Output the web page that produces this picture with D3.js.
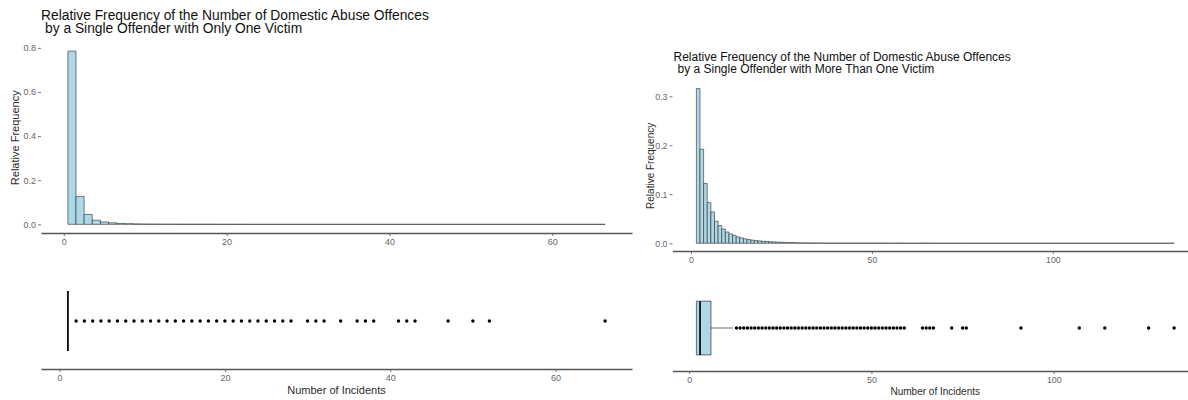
<!DOCTYPE html>
<html>
<head>
<meta charset="utf-8">
<script src="https://cdn.jsdelivr.net/npm/d3@7"></script>
<style>
    body { margin: 0; background: #fff; }
    svg { display: block; font-family: "Liberation Sans", Arial, sans-serif; }
</style>
</head>
<body>
<div id="chart"></div>
<script>
"use strict";

// ---- data ----
// relative frequency per number of incidents, one bin per integer
const oneVictimFirstBin = 1;
const oneVictimFreq = [
    0.785, 0.127, 0.045, 0.019, 0.011, 0.007, 0.004, 0.003, 0.002, 0.0015,
    0.0011, 0.0009, 0.0007, 0.0006, 0.0005, 0.0004, 0.0004, 0.0003, 0.0003, 0.0002,
    0.0002, 0.0002, 0.0001, 0.0001, 0.0001, 0.0001, 0.0001, 0.0001, 0, 0.0001,
    0.0001, 0.0001, 0, 0.0001, 0, 0.0001, 0.0001, 0.0001, 0, 0,
    0.0001, 0.0001, 0.0001, 0, 0, 0, 0.0001, 0, 0, 0.0001,
    0, 0.0001, 0, 0, 0, 0, 0, 0, 0, 0,
    0, 0, 0, 0, 0, 0.0001
];
const multiVictimFirstBin = 2;
const multiVictimFreq = [
    0.316, 0.192, 0.122, 0.083, 0.064, 0.045, 0.036, 0.029, 0.023, 0.019,
    0.016, 0.013, 0.011, 0.009, 0.0075, 0.0065, 0.0055, 0.0048, 0.0042, 0.0037,
    0.0032, 0.0028, 0.0024, 0.0021, 0.0018, 0.0015, 0.0013, 0.0011, 0.0009, 0.0008,
    0.0007, 0.0006, 0.0005, 0.0005, 0.0004, 0.0004, 0.0003, 0.0003, 0.0003, 0.0002,
    0.0002, 0.0002, 0.0002, 0.0002, 0.0002, 0.0002, 0.0002, 0.0002, 0.0002, 0.0002,
    0.0002, 0.0001, 0.0001, 0.0001, 0.0001, 0.0001, 0.0001, 0.0001, 0, 0,
    0, 0, 0.0001, 0.0001, 0.0001, 0.0001, 0, 0, 0, 0,
    0.0001, 0, 0, 0.0001, 0.0001, 0, 0, 0, 0, 0,
    0, 0, 0, 0, 0, 0, 0, 0, 0, 0.0001,
    0, 0, 0, 0, 0, 0, 0, 0, 0, 0,
    0, 0, 0, 0, 0, 0.0001, 0, 0, 0, 0,
    0, 0, 0.0001, 0, 0, 0, 0, 0, 0, 0,
    0, 0, 0, 0, 0.0001, 0, 0, 0, 0, 0,
    0, 0.0001
];

// boxplot summaries and outliers
const oneVictimBox = { lo: 1, q1: 1, med: 1, q3: 1, hi: 1 };
const oneVictimOutliers = [
    2, 3, 4, 5, 6, 7, 8, 9, 10, 11, 12, 13, 14, 15, 16, 17, 18, 19, 20,
    21, 22, 23, 24, 25, 26, 27, 28, 30, 31, 32, 34, 36, 37, 38,
    41, 42, 43, 47, 50, 52, 66
];
const multiVictimBox = { lo: 2, q1: 2, med: 3, q3: 6, hi: 12 };
const multiVictimOutliers = [
    13, 14, 15, 16, 17, 18, 19, 20, 21, 22, 23, 24, 25, 26, 27, 28, 29, 30,
    31, 32, 33, 34, 35, 36, 37, 38, 39, 40, 41, 42, 43, 44, 45, 46, 47, 48,
    49, 50, 51, 52, 53, 54, 55, 56, 57, 58, 59, 64, 65, 66, 67, 72, 75, 76,
    91, 107, 114, 126, 133
];

// tick labels
const oneVictimXTicks = [0, 20, 40, 60];
const oneVictimYTicks = [0, 0.2, 0.4, 0.6, 0.8];
const multiVictimXTicks = [0, 50, 100];
const multiVictimYTicks = [0, 0.1, 0.2, 0.3];

const titleOne = ["Relative Frequency of the Number of Domestic Abuse Offences",
                  "by a Single Offender with Only One Victim"];
const titleMulti = ["Relative Frequency of the Number of Domestic Abuse Offences",
                    "by a Single Offender with More Than One Victim"];

const FILL = "#add8e6";
const AXIS = "#555";
const TICKTEXT = "#666";

const svg = d3.select("#chart").append("svg")
              .attr("width", 1188)
              .attr("height", 400);

// ggplot style 5% expansion
const expand = (lo, hi) => [lo - (hi - lo) * 0.05, hi + (hi - lo) * 0.05];

const styleAxis = (g, fontSize) => {
    g.select(".domain").attr("stroke", AXIS).attr("stroke-width", 1.3);
    g.selectAll(".tick line").attr("stroke", AXIS).attr("stroke-width", 0.8);
    g.selectAll(".tick text")
     .attr("fill", TICKTEXT)
     .style("font-size", fontSize + "px")
     .style("font-family", "\"Liberation Sans\", Arial, sans-serif");
};

const drawPanel = cfg => {
    // ---- histogram ----
    const nb = cfg.freq.length;
    const binLo = cfg.firstBin - 0.5;
    const binHi = cfg.firstBin + nb - 0.5;
    const maxF = d3.max(cfg.freq);
    const x = d3.scaleLinear()
                .domain(expand(binLo, binHi))
                .range([cfg.left, cfg.right]);
    const y = d3.scaleLinear()
                .domain(expand(0, maxF))
                .range([cfg.histBottom, cfg.histTop]);

    const bins = cfg.freq.map((f, i) => ({ c: cfg.firstBin + i, f: f }));

    svg.append("g")
       .selectAll("path").data(bins).enter()
       .append("path")
       .attr("d", d => `M${x(d.c - 0.5)},${y(0)}V${y(d.f)}H${x(d.c + 0.5)}V${y(0)}Z`)
       .attr("fill", FILL)
       .attr("stroke", "#2b2b2b")
       .attr("stroke-width", 0.6);

    const gx = svg.append("g")
                  .attr("transform", `translate(0, ${cfg.histBottom})`)
                  .call(d3.axisBottom(x).tickValues(cfg.xTicks)
                          .tickSize(3).tickSizeOuter(0).tickPadding(3));
    styleAxis(gx, cfg.tickFont);

    const gy = svg.append("g")
                  .attr("transform", `translate(${cfg.left}, 0)`)
                  .call(d3.axisLeft(y).tickValues(cfg.yTicks)
                          .tickFormat(d3.format(".1f"))
                          .tickSize(3).tickPadding(2));
    styleAxis(gy, cfg.tickFont);
    gy.select(".domain").remove();

    svg.append("text")
       .attr("transform",
             `translate(${cfg.yTitleX}, ${(cfg.histTop + cfg.histBottom) / 2}) rotate(-90)`)
       .attr("text-anchor", "middle")
       .attr("fill", "#2b2b2b")
       .style("font-size", cfg.axisTitleFont + "px")
       .text("Relative Frequency");

    svg.append("g").selectAll("text").data(cfg.title).enter()
       .append("text")
       .attr("x", (d, i) => cfg.titleX + (i === 0 ? 0 : cfg.titleIndent))
       .attr("y", (d, i) => cfg.titleY + i * cfg.titleLead)
       .attr("fill", "#111")
       .style("font-size", cfg.titleFont + "px")
       .text(d => d);

    // ---- boxplot ----
    const bx = d3.scaleLinear()
                 .domain(expand(cfg.box.lo, d3.max(cfg.outliers)))
                 .range([cfg.left, cfg.right]);
    const by = d3.scaleLinear()
                 .domain([0.4, 1.6])
                 .range([cfg.boxBottom, cfg.boxTop]);
    const b = cfg.box;
    const gb = svg.append("g");

    gb.append("path")
      .attr("d", `M${bx(b.lo)},${by(1)}H${bx(b.q1)}M${bx(b.q3)},${by(1)}H${bx(b.hi)}`)
      .attr("stroke", "#444")
      .attr("stroke-width", 0.8);
    gb.append("path")
      .attr("d", `M${bx(b.q1)},${by(1.375)}H${bx(b.q3)}V${by(0.625)}H${bx(b.q1)}Z`)
      .attr("fill", FILL)
      .attr("stroke", "#333")
      .attr("stroke-width", 0.7);
    gb.append("line")
      .attr("x1", bx(b.med)).attr("x2", bx(b.med))
      .attr("y1", by(1.375)).attr("y2", by(0.625))
      .attr("stroke", "#111")
      .attr("stroke-width", 1.8);
    gb.selectAll("circle").data(cfg.outliers).enter()
      .append("circle")
      .attr("cx", d => bx(d))
      .attr("cy", by(1))
      .attr("r", 1.7)
      .attr("fill", "#000");

    const gbx = svg.append("g")
                   .attr("transform", `translate(0, ${cfg.boxBottom})`)
                   .call(d3.axisBottom(bx).tickValues(cfg.xTicks)
                           .tickSize(3).tickSizeOuter(0).tickPadding(3));
    styleAxis(gbx, cfg.tickFont);

    svg.append("text")
       .attr("x", (cfg.left + cfg.right) / 2)
       .attr("y", cfg.xTitleY)
       .attr("text-anchor", "middle")
       .attr("fill", "#2b2b2b")
       .style("font-size", cfg.axisTitleFont + "px")
       .text("Number of Incidents");
};

drawPanel({
    freq: oneVictimFreq, firstBin: oneVictimFirstBin,
    box: oneVictimBox, outliers: oneVictimOutliers,
    xTicks: oneVictimXTicks, yTicks: oneVictimYTicks, title: titleOne,
    left: 41, right: 632,
    histTop: 42.5, histBottom: 233,
    boxTop: 273, boxBottom: 369,
    yTitleX: 19, xTitleY: 394,
    titleX: 41, titleIndent: 4, titleY: 19.5, titleLead: 13,
    titleFont: 13.8, axisTitleFont: 11, tickFont: 9
});

drawPanel({
    freq: multiVictimFreq, firstBin: multiVictimFirstBin,
    box: multiVictimBox, outliers: multiVictimOutliers,
    xTicks: multiVictimXTicks, yTicks: multiVictimYTicks, title: titleMulti,
    left: 672.5, right: 1198,
    histTop: 80.7, histBottom: 251,
    boxTop: 285, boxBottom: 371,
    yTitleX: 654, xTitleY: 395,
    titleX: 673.5, titleIndent: 4, titleY: 60.5, titleLead: 12.2,
    titleFont: 12, axisTitleFont: 10, tickFont: 8.8
});
</script>
</body>
</html>
